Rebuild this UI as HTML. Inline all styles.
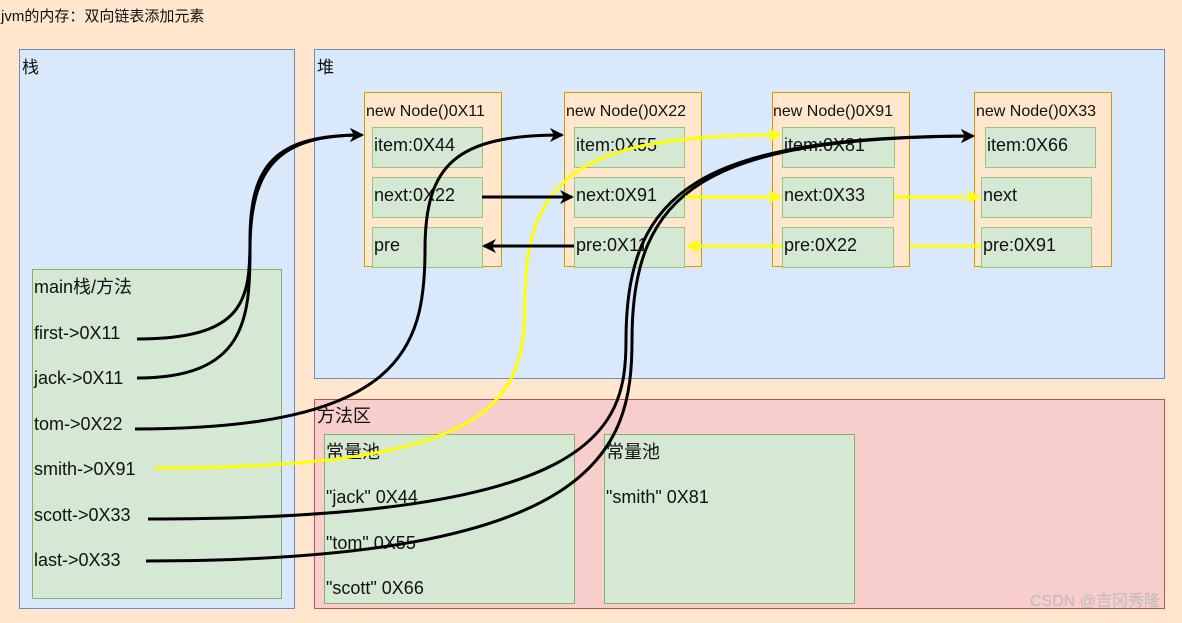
<!DOCTYPE html>
<html><head><meta charset="utf-8"><style>
body{margin:0;width:1182px;height:618px;overflow:hidden;background:#ffe6cc;}
svg text{font-family:"Liberation Sans","Noto Sans CJK SC",sans-serif;fill:#111;}
</style></head><body>
<svg width="1182" height="618" viewBox="0 0 1182 618" xmlns="http://www.w3.org/2000/svg">
<defs>
<marker id="ab" markerWidth="14" markerHeight="14" refX="12" refY="7" orient="auto" markerUnits="userSpaceOnUse"><path d="M0,0 L14,7 L0,14 L4,7 z" fill="#000"/></marker>
<marker id="ay" markerWidth="14" markerHeight="14" refX="12" refY="7" orient="auto" markerUnits="userSpaceOnUse"><path d="M0,0 L14,7 L0,14 L4,7 z" fill="#ffff00"/></marker>
</defs>
<rect width="1182" height="618" fill="#ffe6cc"/>
<text x="1" y="21" font-size="15">jvm的内存：双向链表添加元素</text>
<rect x="19.5" y="49.5" width="275" height="559" fill="#dae8fc" stroke="#6c8ebf"/>
<text x="22" y="73" font-size="17">栈</text>
<rect x="32.5" y="269.5" width="249" height="329" fill="#d5e8d4" stroke="#82b366"/>
<g font-size="18">
<text x="34" y="293">main栈/方法</text>
<text x="34" y="339">first-&gt;0X11</text>
<text x="34" y="384">jack-&gt;0X11</text>
<text x="34" y="430">tom-&gt;0X22</text>
<text x="34" y="475">smith-&gt;0X91</text>
<text x="34" y="521">scott-&gt;0X33</text>
<text x="34" y="566">last-&gt;0X33</text>
</g>
<rect x="314.5" y="49.5" width="850" height="329" fill="#dae8fc" stroke="#6c8ebf"/>
<text x="317" y="73" font-size="17">堆</text>
<rect x="314.5" y="399.5" width="850" height="209" fill="#f8cecc" stroke="#b85450"/>
<text x="317" y="422" font-size="18">方法区</text>
<rect x="324.5" y="434.5" width="250" height="169" fill="#d5e8d4" stroke="#82b366"/>
<rect x="604.5" y="434.5" width="250" height="169" fill="#d5e8d4" stroke="#82b366"/>
<g font-size="18">
<text x="326" y="458">常量池</text>
<text x="326" y="503">"jack" 0X44</text>
<text x="326" y="549">"tom" 0X55</text>
<text x="326" y="594">"scott" 0X66</text>
<text x="606" y="458">常量池</text>
<text x="606" y="503">"smith" 0X81</text>
</g>
<g stroke="#d79b00" fill="#ffe6cc">
<rect x="364.5" y="92.5" width="137" height="174"/>
<rect x="564.5" y="92.5" width="137" height="174"/>
<rect x="772.5" y="92.5" width="137" height="174"/>
<rect x="974.5" y="92.5" width="137" height="174"/>
</g>
<g font-size="16">
<text x="366" y="116">new Node()0X11</text>
<text x="566" y="116">new Node()0X22</text>
<text x="773" y="116">new Node()0X91</text>
<text x="976" y="116">new Node()0X33</text>
</g>
<g fill="#d5e8d4" stroke="#97c77e">
<rect x="372.5" y="127.5" width="110" height="40"/><rect x="372.5" y="177.5" width="110" height="40"/><rect x="372.5" y="227.5" width="110" height="40"/>
<rect x="574.5" y="127.5" width="110" height="40"/><rect x="574.5" y="177.5" width="110" height="40"/><rect x="574.5" y="227.5" width="110" height="40"/>
<rect x="782.5" y="127.5" width="112" height="40"/><rect x="782.5" y="177.5" width="111" height="40"/><rect x="782.5" y="227.5" width="111" height="40"/>
<rect x="985.5" y="127.5" width="110" height="40"/><rect x="981.5" y="177.5" width="110" height="40"/><rect x="981.5" y="227.5" width="110" height="40"/>
</g>
<g font-size="18">
<text x="374" y="151">item:0X44</text><text x="374" y="201">next:0X22</text><text x="374" y="251">pre</text>
<text x="576" y="151">item:0X55</text><text x="576" y="201">next:0X91</text><text x="576" y="251">pre:0X11</text>
<text x="784" y="151">item:0X81</text><text x="784" y="201">next:0X33</text><text x="784" y="251">pre:0X22</text>
<text x="987" y="151">item:0X66</text><text x="983" y="201">next</text><text x="983" y="251">pre:0X91</text>
</g>
<g fill="none" stroke-width="3">
<path d="M137,339 C245,339 250,300 250,240 C250,165 275,135 362,135" stroke="#000" marker-end="url(#ab)"/>
<path d="M137,378 C245,378 250,320 250,250 C250,165 280,135 362,135" stroke="#000" marker-end="url(#ab)"/>
<path d="M135,429 C400,429 425,350 425,250 C425,165 455,135 562,135" stroke="#000" marker-end="url(#ab)"/>
<path d="M155,468 C500,468 525,400 525,300 C525,170 590,135 780,135" stroke="#ffff00" marker-end="url(#ay)"/>
<path d="M148,519 C600,519 626,430 626,340 C626,190 700,137 973,136" stroke="#000" marker-end="url(#ab)"/>
<path d="M146,561 C600,561 632,450 632,340 C632,190 705,138 973,136" stroke="#000" marker-end="url(#ab)"/>
<path d="M482,197 L572,197" stroke="#000" marker-end="url(#ab)"/>
<path d="M574,246 L484,246" stroke="#000" marker-end="url(#ab)"/>
<path d="M685,197 L780,197" stroke="#ffff00" marker-end="url(#ay)"/>
<path d="M894,197 L979,197" stroke="#ffff00" marker-end="url(#ay)"/>
<path d="M782,246 L688,246" stroke="#ffff00" marker-end="url(#ay)"/>
<path d="M910,246 L981,246" stroke="#ffff00"/>
</g>
<text x="1030" y="606" font-size="16" style="fill:#bbb">CSDN @吉冈秀隆</text>
</svg>
</body></html>
